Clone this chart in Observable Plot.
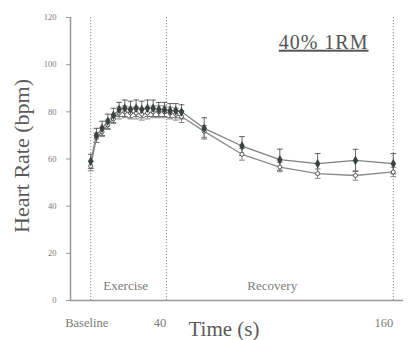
<!DOCTYPE html>
<html>
<head>
<meta charset="utf-8">
<script src="https://cdn.jsdelivr.net/npm/d3@7"></script>
<script src="https://cdn.jsdelivr.net/npm/@observablehq/plot@0.6"></script>
<style>
  html, body { margin: 0; padding: 0; background: #fff; }
</style>
</head>
<body>
<div id="chart"></div>
<script>
// ---- data ----
const times     = [0, 3, 6, 9, 12, 15, 18, 21, 24, 27, 30, 33, 36, 39, 42, 45, 48, 60, 80, 100, 120, 140, 160];
const hrFilled  = [59, 70, 73, 76, 78.5, 81, 81.5, 81, 81.5, 81, 81.5, 81.5, 81, 81, 80.5, 80.5, 80, 73, 65.5, 59.7, 58, 59.4, 58];
const hrOpen    = [57, 69, 71.5, 74.5, 77, 79.5, 80, 79.5, 79.5, 79, 79.5, 80, 80, 80, 79.5, 79, 78, 71.7, 62, 56.6, 53.8, 53, 54.5];
const errFilled = [3, 3, 3, 3, 3, 3, 3.5, 3.5, 3.5, 3.5, 3.5, 3.5, 3, 3, 3, 3, 3, 4.5, 4, 4.5, 4.3, 4.7, 4.3];
const errOpen   = [2, 2, 2, 2, 2, 2.5, 2.5, 2.5, 2.5, 2.5, 2.5, 2.5, 2.5, 2.5, 2.5, 2.5, 2.5, 2.5, 2.5, 2, 2, 2, 2];
const phaseLines  = [0, 40, 160];
const baselineTick = ["Baseline"];
const numTicks     = [40, 160];
const numTickLabels = ["40", "160"];
const phaseNames = ["Exercise", "Recovery"];
const phaseMids  = [18.5, 96];
const yTicks = [0, 20, 40, 60, 80, 100, 120];
const xDomain = [-10.7, 165.4];
const yDomain = [0, 120];
const title = "40% 1RM";

const filled = times.map((t, i) => ({t, hr: hrFilled[i], lo: hrFilled[i] - errFilled[i], hi: hrFilled[i] + errFilled[i]}));
const open   = times.map((t, i) => ({t, hr: hrOpen[i], lo: hrOpen[i] - errOpen[i], hi: hrOpen[i] + errOpen[i]}));
const capSymbol = {draw(ctx, size) { const r = Math.sqrt(size) * 0.9; ctx.moveTo(-r, 0); ctx.lineTo(r, 0); }};

const serif = "Liberation Serif, DejaVu Serif, serif";
const gray = "#7a7a7a";
const dark = "#3b4440";

function errorBars(data, color) {
  return [
    Plot.ruleX(data, {x: "t", y1: "lo", y2: "hi", stroke: color, strokeWidth: 0.9}),
    Plot.dot(data, {x: "t", y: "hi", symbol: capSymbol, r: 1.8, stroke: color, strokeWidth: 0.9}),
    Plot.dot(data, {x: "t", y: "lo", symbol: capSymbol, r: 1.8, stroke: color, strokeWidth: 0.9})
  ];
}

const chart = Plot.plot({
  width: 408,
  height: 340,
  marginLeft: 70,
  marginRight: 5,
  marginTop: 17,
  marginBottom: 40,
  style: {background: "#fff", fontFamily: serif},
  x: {domain: xDomain, axis: null},
  y: {domain: yDomain, ticks: yTicks, label: null},
  marks: [
    Plot.axisY({ticks: yTicks, tickSize: 4, tickPadding: 10, fontSize: 8.5, fontFamily: serif, fill: gray, stroke: "#999", label: null}),
    Plot.ruleX(phaseLines, {stroke: "#888", strokeDasharray: "1.2,1.8", strokeWidth: 1}),
    Plot.ruleX([xDomain[0]], {stroke: "#999", strokeWidth: 1.5}),
    Plot.ruleY([yDomain[0]], {stroke: "#999", strokeWidth: 1.5}),
    ...errorBars(filled, "#555"),
    ...errorBars(open, "#777"),
    Plot.line(filled, {x: "t", y: "hr", stroke: "#808080", strokeWidth: 1.3}),
    Plot.line(open, {x: "t", y: "hr", stroke: "#8a8a8a", strokeWidth: 1.3}),
    Plot.dot(open, {x: "t", y: "hr", r: 2, fill: "#fff", stroke: "#555", strokeWidth: 1}),
    Plot.dot(filled, {x: "t", y: "hr", r: 2, fill: dark, stroke: dark, symbol: "diamond"}),
    // x tick labels
    Plot.text(baselineTick, {x: [phaseLines[0]], y: [yDomain[0]], text: d => d, dx: -4, dy: 22, fontSize: 12.5, fontFamily: serif, fill: gray}),
    Plot.text(numTickLabels, {x: numTicks, y: numTicks.map(() => yDomain[0]), text: d => d, textAnchor: "end", dx: 0, dy: 22, fontSize: 12.5, fontFamily: serif, fill: gray}),
    // phase labels
    Plot.text(phaseNames, {x: phaseMids, y: phaseMids.map(() => yDomain[0]), text: d => d, dy: -15, fontSize: 13, fontFamily: serif, fill: gray}),
    // title
    Plot.text([title], {frameAnchor: "top-right", text: d => d, textAnchor: "end", lineAnchor: "top", dx: -35, dy: 17, fontSize: 20, fontFamily: serif, fill: "#555"}),
    // axis titles
    Plot.text(["Heart Rate (bpm)"], {frameAnchor: "left", text: d => d, textAnchor: "middle", rotate: -90, dx: -49, dy: -3, fontSize: 22, fontFamily: serif, fill: "#5a5a5a"}),
    Plot.text(["Time (s)"], {frameAnchor: "bottom", text: d => d, textAnchor: "middle", lineAnchor: "bottom", dx: -13, dy: 35, fontSize: 21, fontFamily: serif, fill: "#5a5a5a"})
  ]
});

d3.select(chart).selectAll("text").filter(function() { return this.textContent === title; })
  .style("text-decoration", "underline").style("letter-spacing", "1px");

document.getElementById("chart").appendChild(chart);
</script>
</body>
</html>
